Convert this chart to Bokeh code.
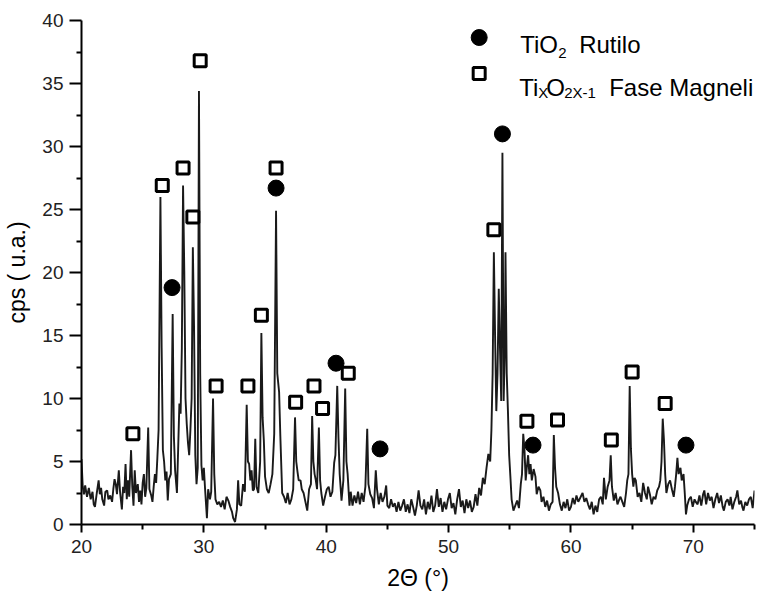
from bokeh.plotting import figure
from bokeh.models import Range1d, FixedTicker, Label
from bokeh.embed import file_html
from bokeh.resources import INLINE

# ---------------- data ----------------
two_theta = [
    20.0, 20.1, 20.2, 20.3, 20.45, 20.6, 20.75, 20.9, 21.0, 21.1, 21.25, 21.4, 21.5, 21.6, 21.7, 21.85, 21.95,
    22.1, 22.2, 22.35, 22.5, 22.6, 22.7, 22.8, 22.9, 23.05, 23.15, 23.3, 23.4, 23.5, 23.6, 23.7, 23.8, 23.9,
    24.05, 24.15, 24.25, 24.35, 24.45, 24.6, 24.7, 24.8, 24.9, 25.0, 25.1, 25.2, 25.3, 25.45, 25.55, 25.7,
    25.8, 25.9, 26.0, 26.1, 26.2, 26.3, 26.45, 26.55, 26.65, 26.75, 26.85, 26.95, 27.05, 27.15, 27.3, 27.45,
    27.55, 27.65, 27.8, 27.9, 28.0, 28.1, 28.2, 28.3, 28.4, 28.5, 28.6, 28.7, 28.8, 28.9, 29.0, 29.1, 29.2,
    29.3, 29.4, 29.5, 29.6, 29.7, 29.8, 29.9, 30.0, 30.1, 30.25, 30.35, 30.5, 30.6, 30.75, 30.85, 30.95,
    31.1, 31.25, 31.4, 31.55, 31.7, 31.85, 32.0, 32.15, 32.3, 32.4, 32.55, 32.7, 32.8, 32.9, 33.05, 33.2,
    33.35, 33.5, 33.6, 33.7, 33.8, 33.9, 34.0, 34.1, 34.2, 34.3, 34.45, 34.6, 34.7, 34.8, 34.9, 35.0, 35.15,
    35.3, 35.45, 35.6, 35.75, 35.9, 36.0, 36.15, 36.25, 36.4, 36.55, 36.7, 36.85, 37.0, 37.15, 37.3, 37.45,
    37.55, 37.65, 37.75, 37.9, 38.0, 38.15, 38.3, 38.45, 38.6, 38.75, 38.85, 38.95, 39.05, 39.15, 39.25,
    39.4, 39.5, 39.6, 39.75, 39.9, 40.05, 40.2, 40.35, 40.5, 40.65, 40.75, 40.9, 41.0, 41.1, 41.25, 41.4,
    41.55, 41.65, 41.75, 41.9, 42.0, 42.15, 42.3, 42.45, 42.6, 42.75, 42.9, 43.05, 43.2, 43.35, 43.45, 43.6,
    43.75, 43.9, 44.05, 44.15, 44.3, 44.45, 44.6, 44.75, 44.9, 45.0, 45.15, 45.3, 45.45, 45.6, 45.75, 45.9,
    46.05, 46.2, 46.35, 46.5, 46.65, 46.8, 46.95, 47.1, 47.25, 47.4, 47.55, 47.7, 47.85, 48.0, 48.15, 48.3,
    48.45, 48.6, 48.75, 48.9, 49.05, 49.2, 49.35, 49.5, 49.65, 49.8, 49.95, 50.1, 50.25, 50.4, 50.55, 50.7,
    50.85, 51.0, 51.15, 51.3, 51.45, 51.6, 51.75, 51.9, 52.05, 52.2, 52.35, 52.5, 52.65, 52.8, 52.95, 53.1,
    53.25, 53.4, 53.5, 53.6, 53.7, 53.8, 53.9, 54.0, 54.1, 54.2, 54.3, 54.4, 54.5, 54.6, 54.65, 54.75, 54.85,
    54.95, 55.05, 55.15, 55.3, 55.45, 55.6, 55.75, 55.9, 56.0, 56.1, 56.2, 56.3, 56.4, 56.5, 56.6, 56.7,
    56.8, 56.95, 57.1, 57.2, 57.35, 57.5, 57.6, 57.75, 57.9, 58.05, 58.2, 58.35, 58.5, 58.6, 58.7, 58.8,
    58.95, 59.1, 59.25, 59.4, 59.55, 59.7, 59.85, 60.0, 60.15, 60.3, 60.45, 60.6, 60.8, 60.95, 61.1, 61.25,
    61.4, 61.55, 61.7, 61.85, 62.0, 62.15, 62.3, 62.45, 62.6, 62.7, 62.85, 63.0, 63.15, 63.25, 63.35, 63.5,
    63.65, 63.8, 63.95, 64.05, 64.2, 64.35, 64.5, 64.6, 64.7, 64.8, 64.9, 65.0, 65.1, 65.2, 65.3, 65.45,
    65.6, 65.75, 65.9, 66.05, 66.2, 66.3, 66.45, 66.6, 66.75, 66.9, 67.05, 67.2, 67.3, 67.4, 67.5, 67.6,
    67.7, 67.8, 67.95, 68.1, 68.25, 68.4, 68.5, 68.6, 68.7, 68.8, 68.95, 69.05, 69.2, 69.3, 69.4, 69.5,
    69.65, 69.8, 69.95, 70.1, 70.2, 70.35, 70.5, 70.65, 70.8, 70.9, 71.05, 71.2, 71.35, 71.5, 71.65, 71.8,
    71.95, 72.1, 72.25, 72.4, 72.5, 72.65, 72.8, 72.95, 73.05, 73.2, 73.35, 73.5, 73.6, 73.75, 73.9, 74.0,
    74.1, 74.25, 74.4, 74.55, 74.7, 74.85, 75.0,
]
cps = [
    5.2, 3.0, 2.4, 3.1, 2.2, 2.9, 2.0, 2.6, 1.6, 1.4, 2.5, 3.5, 2.4, 2.9, 2.0, 1.5, 2.6,
    2.7, 2.0, 2.3, 1.8, 2.8, 3.6, 3.2, 2.4, 4.3, 2.6, 1.2, 3.0, 2.5, 4.8, 2.0, 3.5, 2.2,
    5.9, 3.0, 1.5, 4.3, 2.5, 3.2, 1.8, 2.7, 1.6, 3.3, 4.0, 2.2, 2.9, 7.7, 2.8, 2.3,
    1.8, 3.0, 4.0, 3.3, 5.3, 7.5, 26.0, 14.0, 5.9, 5.0, 3.5, 4.2, 1.9, 3.6, 4.0, 16.7,
    7.0, 4.3, 2.5, 6.0, 9.6, 8.8, 14.0, 26.9, 20.1, 10.0, 8.0, 6.5, 5.5, 7.5, 10.0, 22.0, 15.5,
    5.5, 3.2, 4.5, 34.4, 12.0, 4.7, 3.5, 4.5, 2.8, 0.5, 2.8, 2.0, 2.6, 10.0, 4.0, 2.0,
    1.6, 1.8, 1.4, 1.9, 1.2, 2.2, 1.9, 1.4, 1.0, 0.5, 0.2, 1.2, 3.5, 1.6, 1.5, 3.2,
    2.6, 9.5, 5.0, 4.8, 3.5, 4.3, 2.7, 2.8, 6.8, 3.0, 2.5, 5.0, 15.2, 8.5, 6.7, 3.8, 2.8,
    2.5, 3.2, 4.0, 7.2, 24.9, 12.0, 10.5, 7.0, 2.5, 2.2, 1.7, 2.5, 1.6, 2.0, 2.8, 8.5,
    5.0, 4.2, 3.5, 3.5, 2.8, 2.5, 1.8, 1.1, 2.8, 3.2, 8.6, 5.0, 4.0, 3.5, 2.8,
    7.7, 3.5, 2.5, 1.5, 2.2, 2.8, 3.0, 2.2, 2.6, 4.9, 5.5, 11.0, 6.9, 4.0, 1.9, 3.5,
    10.8, 5.0, 4.0, 1.5, 2.6, 1.5, 2.3, 1.7, 2.6, 1.6, 2.5, 1.8, 3.0, 7.6, 3.2, 2.4,
    2.1, 1.3, 4.3, 2.8, 1.6, 2.5, 1.8, 2.2, 3.1, 1.5, 1.3, 2.0, 1.4, 1.7, 1.0, 1.8,
    1.1, 1.5, 2.0, 1.0, 1.6, 0.9, 2.0, 1.4, 0.7, 1.5, 2.7, 1.5, 1.2, 2.0, 0.8, 1.8,
    1.2, 2.3, 1.0, 1.5, 2.8, 1.4, 2.1, 1.0, 1.8, 1.2, 2.0, 2.5, 1.3, 1.7, 0.8, 2.0,
    2.8, 1.4, 1.9, 0.9, 2.0, 1.3, 1.9, 1.0, 1.4, 2.4, 1.5, 2.9, 2.3, 3.7, 3.2, 4.5,
    5.6, 5.0, 7.5, 12.0, 21.6, 15.0, 9.0, 12.0, 18.7, 14.0, 9.8, 29.5, 9.8, 14.0, 21.6, 12.0, 9.0,
    5.5, 3.8, 2.0, 1.1, 1.5, 1.9, 1.3, 3.2, 4.0, 7.2, 6.0, 3.5, 4.6, 5.5, 4.0, 4.8,
    3.5, 4.4, 3.8, 2.4, 3.0, 2.7, 1.8, 2.2, 1.4, 1.9, 1.1, 1.6, 1.8, 7.1, 4.5, 3.0,
    2.5, 1.6, 1.1, 1.8, 1.3, 2.0, 1.1, 1.4, 2.1, 1.6, 2.3, 1.8, 2.2, 2.5, 1.8, 2.1,
    1.6, 1.2, 1.8, 0.8, 1.5, 1.0, 2.0, 2.2, 1.6, 3.7, 2.0, 3.0, 3.5, 5.5, 3.0, 1.9,
    2.5, 1.6, 2.0, 2.2, 1.8, 1.4, 2.5, 3.5, 4.0, 11.0, 6.0, 4.0, 3.0, 3.7, 3.5, 2.2,
    2.5, 1.8, 3.3, 2.5, 2.0, 3.0, 2.4, 1.6, 2.2, 2.0, 2.7, 3.0, 3.5, 5.0, 8.4, 6.7,
    4.0, 2.5, 3.2, 3.5, 2.8, 2.2, 3.0, 4.0, 5.3, 4.0, 4.5, 3.5, 4.0, 2.5, 0.8, 1.5,
    2.0, 2.2, 1.4, 2.0, 1.8, 1.6, 2.3, 1.5, 2.4, 2.7, 1.6, 2.5, 1.9, 2.2, 1.3, 2.0,
    2.5, 1.7, 2.3, 1.4, 1.1, 1.8, 2.0, 1.5, 2.2, 1.2, 1.8, 2.2, 2.7, 1.6, 1.9, 1.4,
    1.1, 1.8, 1.5, 2.0, 2.2, 1.3, 2.7,
]

rutilo_x = [27.4, 35.9, 40.8, 44.4, 54.4, 56.9, 69.4]
rutilo_y = [18.8, 26.7, 12.8, 6.0, 31.0, 6.3, 6.3]

magneli_x = [24.2, 26.6, 28.3, 29.1, 29.7, 31.0, 33.6, 34.7, 35.9, 37.5, 39.0, 39.7, 41.8,
             53.7, 56.4, 58.9, 63.3, 65.0, 67.7]
magneli_y = [7.2, 26.9, 28.3, 24.4, 36.8, 11.0, 11.0, 16.6, 28.3, 9.7, 11.0, 9.2, 12.0,
             23.4, 8.2, 8.3, 6.7, 12.1, 9.6]

x_ticks = [20, 30, 40, 50, 60, 70]
x_minor = [25, 35, 45, 55, 65, 75]
y_ticks = [0, 5, 10, 15, 20, 25, 30, 35, 40]
y_minor = [2.5, 7.5, 12.5, 17.5, 22.5, 27.5, 32.5, 37.5]

x_label = "2\u0398 (\u00b0)"
y_label = "cps ( u.a.)"

# legend anchor (data coords) - layout only
LEG_X = 52.5
LEG_Y1 = 38.65
LEG_Y2 = 35.8

FONT = "Liberation Sans"

p = figure(width=756, height=594, output_backend="svg", toolbar_location=None,
           x_range=Range1d(20, 75), y_range=Range1d(0, 40),
           min_border_left=81, min_border_top=20, min_border_right=2, min_border_bottom=70)
p.outline_line_color = None
p.xgrid.visible = False
p.ygrid.visible = False
p.background_fill_color = "white"

p.line(two_theta, cps, line_color="#1a1a1a", line_width=1.9)

p.scatter(rutilo_x, rutilo_y, marker="circle", size=16, fill_color="black", line_color="black")
p.scatter(magneli_x, magneli_y, marker="square", size=12, fill_color="white",
          line_color="black", line_width=3)

# legend markers
p.scatter([LEG_X], [LEG_Y1], marker="circle", size=16, fill_color="black", line_color="black")
p.scatter([LEG_X], [LEG_Y2], marker="square", size=12, fill_color="white",
          line_color="black", line_width=3)

def lab(text, dx, dy, size, y_anchor):
    p.add_layout(Label(x=LEG_X, y=y_anchor, x_offset=dx, y_offset=dy, text=text,
                       text_font=FONT, text_font_size=f"{size}px", text_color="black",
                       text_baseline="alphabetic", text_align="left"))

# line 1: TiO2 Rutilo
lab("TiO", 41, -7, 24, LEG_Y1)
lab("2", 79, -15, 15, LEG_Y1)
lab("Rutilo", 100, -7, 24, LEG_Y1)
# line 2: TixO2x-1 Fase Magneli
lab("Ti", 40, -14, 24, LEG_Y2)
lab("X", 59, -19, 15, LEG_Y2)
lab("O", 67, -14, 24, LEG_Y2)
lab("2X-1", 85, -19, 15, LEG_Y2)
lab("Fase Magneli", 130, -14, 24, LEG_Y2)

for ax in (p.xaxis[0], p.yaxis[0]):
    ax.axis_line_width = 2
    ax.axis_line_color = "black"
    ax.major_tick_line_width = 2
    ax.minor_tick_line_width = 2
    ax.major_tick_line_color = "black"
    ax.minor_tick_line_color = "black"
    ax.major_tick_in = 0
    ax.minor_tick_in = 0
    ax.major_label_text_font = FONT
    ax.major_label_text_font_size = "19px"
    ax.major_label_text_color = "#222222"
    ax.axis_label_text_font = FONT
    ax.axis_label_text_font_size = "23px"
    ax.axis_label_text_font_style = "normal"
    ax.axis_label_text_color = "black"

p.xaxis.ticker = FixedTicker(ticks=x_ticks, minor_ticks=x_minor)
p.yaxis.ticker = FixedTicker(ticks=y_ticks, minor_ticks=y_minor)
p.xaxis.major_tick_out = 8
p.xaxis.minor_tick_out = 5
p.yaxis.major_tick_out = 12
p.yaxis.minor_tick_out = 5
p.xaxis.axis_label = x_label
p.yaxis.axis_label = y_label
p.xaxis.major_label_standoff = 7
p.yaxis.major_label_standoff = 6
p.xaxis.axis_label_standoff = 9
p.yaxis.axis_label_standoff = 9

open("out.html", "w").write(file_html(p, INLINE))
